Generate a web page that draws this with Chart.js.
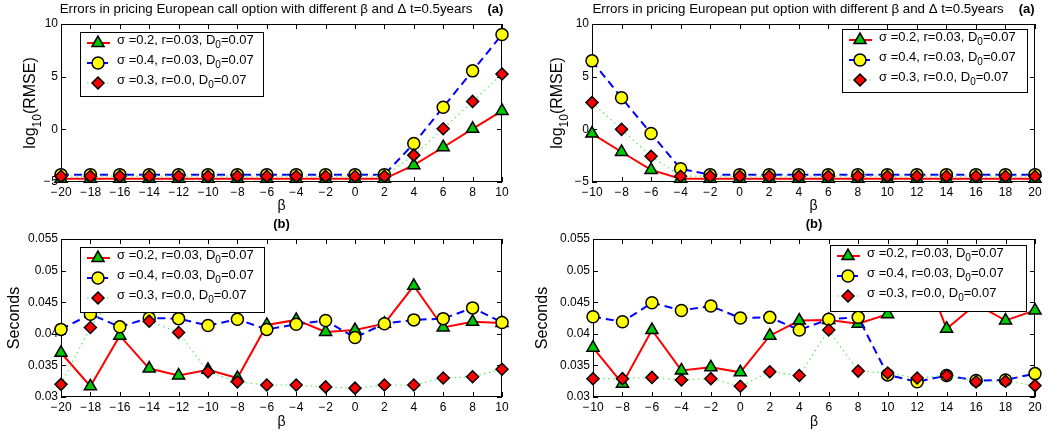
<!DOCTYPE html>
<html lang="en">
<head>
<meta charset="UTF-8" />
<title>Errors in pricing European options</title>
<script src="https://cdn.jsdelivr.net/npm/chart.js"></script>
<style>
  body { margin: 0; background: #fff; }
  #wrap { position: relative; width: 1049px; height: 435px; }
  #wrap canvas { position: absolute; }
</style>
</head>
<body>
<div id="wrap">
  <canvas id="call-rmse" width="525" height="215" style="left:0;top:0"></canvas>
  <canvas id="put-rmse" width="524" height="215" style="left:525px;top:0"></canvas>
  <canvas id="call-time" width="525" height="220" style="left:0;top:215px"></canvas>
  <canvas id="put-time" width="524" height="220" style="left:525px;top:215px"></canvas>
</div>
<script>
//beta values on the x axes
const betaCall = [-20, -18, -16, -14, -12, -10, -8, -6, -4, -2, 0, 2, 4, 6, 8, 10];
const betaPut = [-10, -8, -6, -4, -2, 0, 2, 4, 6, 8, 10, 12, 14, 16, 18, 20];

//legend text, _{..} is a subscript
const seriesLabels = [
  "σ =0.2, r=0.03, D_{0}=0.07",
  "σ =0.4, r=0.03, D_{0}=0.07",
  "σ =0.3, r=0.0, D_{0}=0.07",
];

//(a) log10(RMSE), call option
const callRmse02 = [-4.7, -4.7, -4.7, -4.7, -4.7, -4.7, -4.7, -4.7, -4.7, -4.7, -4.7, -4.7, -3.4, -1.7, 0.05, 1.75];
const callRmse04 = [-4.3, -4.3, -4.3, -4.3, -4.3, -4.3, -4.3, -4.3, -4.3, -4.3, -4.3, -4.3, -1.35, 2.1, 5.55, 9.0];
const callRmse03 = [-4.45, -4.45, -4.45, -4.45, -4.45, -4.45, -4.45, -4.45, -4.45, -4.45, -4.45, -4.45, -2.45, 0.05, 2.65, 5.25];

//(a) log10(RMSE), put option
const putRmse02 = [-0.4, -2.15, -3.85, -4.68, -4.7, -4.7, -4.7, -4.7, -4.7, -4.7, -4.7, -4.7, -4.7, -4.7, -4.7, -4.7];
const putRmse04 = [6.5, 3.0, -0.4, -3.75, -4.3, -4.3, -4.3, -4.3, -4.3, -4.3, -4.3, -4.3, -4.3, -4.3, -4.3, -4.3];
const putRmse03 = [2.55, 0.0, -2.55, -4.45, -4.45, -4.45, -4.45, -4.45, -4.45, -4.45, -4.45, -4.45, -4.45, -4.45, -4.45, -4.45];

//(b) seconds, call option
const callTime02 = [0.0370, 0.0317, 0.0397, 0.0345, 0.0334, 0.0343, 0.0330, 0.0414, 0.0422, 0.0403, 0.0406, 0.0416, 0.0476, 0.0410, 0.0419, 0.0417];
const callTime04 = [0.0407, 0.0431, 0.0411, 0.0425, 0.0424, 0.0413, 0.0423, 0.0407, 0.0415, 0.0421, 0.0394, 0.0416, 0.0422, 0.0424, 0.0441, 0.0418];
const callTime03 = [0.0320, 0.0410, 0.0475, 0.0420, 0.0402, 0.0340, 0.0324, 0.0319, 0.0319, 0.0316, 0.0314, 0.0319, 0.0319, 0.0330, 0.0332, 0.0344];

//(b) seconds, put option
const putTime02 = [0.0378, 0.0321, 0.0406, 0.0342, 0.0347, 0.0339, 0.0397, 0.0421, 0.0422, 0.0416, 0.0431, 0.0530, 0.0408, 0.0447, 0.0421, 0.0437];
const putTime04 = [0.0427, 0.0419, 0.0449, 0.0437, 0.0444, 0.0425, 0.0426, 0.0406, 0.0423, 0.0426, 0.0335, 0.0324, 0.0334, 0.0326, 0.0327, 0.0337];
const putTime03 = [0.0329, 0.0329, 0.0331, 0.0327, 0.0329, 0.0317, 0.0340, 0.0334, 0.0406, 0.0341, 0.0338, 0.0330, 0.0334, 0.0324, 0.0325, 0.0318];

const FONT = "'Liberation Sans', Arial, Helvetica, sans-serif";

//split "D_{0}" style strings into normal / subscript pieces
function richParts(text) {
  const parts = [];
  const re = /_\{(.*?)\}/g;
  let last = 0, m;
  while ((m = re.exec(text)) !== null) {
    if (m.index > last) parts.push({ t: text.slice(last, m.index), sub: false });
    parts.push({ t: m[1], sub: true });
    last = re.lastIndex;
  }
  if (last < text.length) parts.push({ t: text.slice(last), sub: false });
  return parts;
}

//draw text with subscripts, y is the middle of the normal text
function drawRich(ctx, text, x, y, size, align) {
  const parts = richParts(text);
  const subSize = Math.round(size * 0.75);
  let total = 0;
  parts.forEach((p) => {
    ctx.font = (p.sub ? subSize : size) + "px " + FONT;
    p.w = ctx.measureText(p.t).width;
    total += p.w;
  });
  let cx = align === "center" ? x - total / 2 : x;
  ctx.textAlign = "left";
  ctx.textBaseline = "middle";
  ctx.fillStyle = "#000";
  parts.forEach((p) => {
    ctx.font = (p.sub ? subSize : size) + "px " + FONT;
    ctx.fillText(p.t, cx, p.sub ? y + size * 0.42 : y);
    cx += p.w;
  });
}

//matlab puts a little space after its minus sign
function minusSign(v) {
  return String(v).replace("-", "\u2212\u200a");
}

//matlab style frame, inward ticks, titles and boxed legend
function matlabLook(cfg) {
  return {
    id: "matlabLook",
    beforeDatasetsDraw(chart) {
      const ctx = chart.ctx;
      const { left, right, top, bottom } = chart.chartArea;
      const xs = chart.scales.x, ys = chart.scales.y;
      ctx.save();
      ctx.strokeStyle = "#000";
      ctx.lineWidth = 1;
      ctx.beginPath();
      xs.ticks.forEach((t) => {
        const px = Math.round(xs.getPixelForValue(t.value)) + 0.5;
        ctx.moveTo(px, bottom); ctx.lineTo(px, bottom - 5);
        ctx.moveTo(px, top); ctx.lineTo(px, top + 5);
      });
      ys.ticks.forEach((t) => {
        const py = Math.round(ys.getPixelForValue(t.value)) + 0.5;
        ctx.moveTo(left, py); ctx.lineTo(left + 5, py);
        ctx.moveTo(right, py); ctx.lineTo(right - 5, py);
      });
      ctx.stroke();
      ctx.strokeRect(left + 0.5, top + 0.5, right - left - 1, bottom - top - 1);
      ctx.restore();
    },
    afterDatasetsDraw(chart) {
      const ctx = chart.ctx;
      const [bx, by, bw, bh] = cfg.legend;
      ctx.save();
      ctx.fillStyle = "#fff";
      ctx.fillRect(bx, by, bw, bh);
      ctx.strokeStyle = "#000";
      ctx.lineWidth = 1;
      ctx.strokeRect(bx + 0.5, by + 0.5, bw, bh);
      chart.data.datasets.forEach((ds, i) => {
        const my = by + 11 + i * 20;
        ctx.beginPath();
        ctx.setLineDash(ds.borderDash || []);
        ctx.strokeStyle = ds.borderColor;
        ctx.lineWidth = ds.borderWidth;
        ctx.moveTo(bx + 7, my);
        ctx.lineTo(bx + 30, my);
        ctx.stroke();
        ctx.setLineDash([]);
        ctx.fillStyle = ds.pointBackgroundColor;
        ctx.strokeStyle = ds.pointBorderColor;
        ctx.lineWidth = ds.pointBorderWidth;
        Chart.helpers.drawPoint(ctx, {
          pointStyle: ds.pointStyle,
          radius: ds.pointRadius,
          rotation: 0,
          borderWidth: ds.pointBorderWidth,
        }, bx + 18, my);
        drawRich(ctx, ds.label, bx + 37, my - 3, 13, "left");
      });
      ctx.restore();
    },
    afterDraw(chart) {
      const ctx = chart.ctx;
      const { left, right, top, bottom } = chart.chartArea;
      const mid = (left + right) / 2;
      ctx.save();
      //title with bold tag
      ctx.textBaseline = "middle";
      ctx.fillStyle = "#000";
      ctx.font = "13.3px " + FONT;
      const mainW = cfg.title ? ctx.measureText(cfg.title).width : 0;
      ctx.font = "bold 13px " + FONT;
      const tagW = ctx.measureText(cfg.tag).width;
      const gap = cfg.title ? 15 : 0;
      let tx = mid - (mainW + gap + tagW) / 2;
      ctx.textAlign = "left";
      if (cfg.title) {
        ctx.font = "13.3px " + FONT;
        ctx.fillText(cfg.title, tx, 9);
        tx += mainW + gap;
      }
      ctx.font = "bold 13px " + FONT;
      ctx.fillText(cfg.tag, tx, 9);
      //x label
      ctx.font = "14px " + FONT;
      ctx.textAlign = "center";
      ctx.fillText("β", mid, cfg.xLabelY);
      //y label, rotated
      ctx.translate(cfg.yLabelX, (top + bottom) / 2);
      ctx.rotate(-Math.PI / 2);
      drawRich(ctx, cfg.yLabel, 0, 0, 16, "center");
      ctx.restore();
    },
  };
}

function points(xs, ys) {
  return xs.map((x, i) => ({ x: x, y: ys[i] }));
}

function makeChart(cfg) {
  const canvas = document.getElementById(cfg.id);
  const W = canvas.width, H = canvas.height;
  const [aLeft, aRight, aTop, aBottom] = cfg.area;
  const styles = [
    { borderColor: "#ff0000", borderWidth: 2, borderDash: [], pointStyle: "triangle", pointRadius: 7, pointBackgroundColor: "#00c800", order: 2 },
    { borderColor: "#0000ff", borderWidth: 2, borderDash: [8, 5], pointStyle: "circle", pointRadius: 6, pointBackgroundColor: "#ffff00", order: 1 },
    { borderColor: "#55ee55", borderWidth: 1.2, borderDash: [1.5, 3.5], pointStyle: "rectRot", pointRadius: 6, pointBackgroundColor: "#ff0000", order: 0 },
  ];
  const datasets = cfg.series.map((s, i) => Object.assign({
    label: seriesLabels[i],
    data: points(cfg.beta, s),
    pointBorderColor: "#000",
    pointBorderWidth: 1.5,
    pointHoverRadius: styles[i].pointRadius,
    tension: 0,
    fill: false,
    clip: false,
  }, styles[i]));

  return new Chart(canvas, {
    type: "line",
    data: { datasets: datasets },
    options: {
      responsive: false,
      animation: false,
      events: [],
      layout: { padding: { top: aTop, right: W - aRight, left: 0, bottom: 0 } },
      plugins: { legend: { display: false }, tooltip: { enabled: false }, title: { display: false } },
      scales: {
        x: {
          type: "linear",
          min: cfg.beta[0],
          max: cfg.beta[cfg.beta.length - 1],
          grid: { display: false, drawTicks: false },
          border: { display: false },
          ticks: {
            stepSize: 2,
            autoSkip: false,
            maxRotation: 0,
            padding: 3,
            color: "#000",
            font: { family: FONT, size: 12 },
            callback: (v) => minusSign(v),
          },
          afterFit: (scale) => { scale.height = H - aBottom; },
        },
        y: {
          min: cfg.yMin,
          max: cfg.yMax,
          grid: { display: false, drawTicks: false },
          border: { display: false },
          ticks: {
            stepSize: cfg.yStep,
            padding: 3,
            color: "#000",
            font: { family: FONT, size: 12 },
            callback: (v) => minusSign(+v.toFixed(4)),
          },
          afterFit: (scale) => { scale.width = aLeft; },
        },
      },
    },
    plugins: [matlabLook(cfg)],
  });
}

const callTitle = "Errors in pricing European call option with different β and Δ t=0.5years";
const putTitle = "Errors in pricing European put option with different β and Δ t=0.5years";

makeChart({
  id: "call-rmse", beta: betaCall, series: [callRmse02, callRmse04, callRmse03],
  yMin: -5, yMax: 10, yStep: 5, area: [61, 502, 24, 182],
  title: callTitle, tag: "(a)", legend: [80, 32, 183, 64],
  yLabel: "log_{10}(RMSE)", yLabelX: 31, xLabelY: 206,
});
makeChart({
  id: "put-rmse", beta: betaPut, series: [putRmse02, putRmse04, putRmse03],
  yMin: -5, yMax: 10, yStep: 5, area: [67, 510, 24, 182],
  title: putTitle, tag: "(a)", legend: [317, 29, 185, 63],
  yLabel: "log_{10}(RMSE)", yLabelX: 33, xLabelY: 206,
});
makeChart({
  id: "call-time", beta: betaCall, series: [callTime02, callTime04, callTime03],
  yMin: 0.03, yMax: 0.055, yStep: 0.005, area: [61, 502, 24, 182],
  title: "", tag: "(b)", legend: [80, 32, 184, 65],
  yLabel: "Seconds", yLabelX: 15, xLabelY: 207,
});
makeChart({
  id: "put-time", beta: betaPut, series: [putTime02, putTime04, putTime03],
  yMin: 0.03, yMax: 0.055, yStep: 0.005, area: [68, 510, 24, 182],
  title: "", tag: "(b)", legend: [305, 30, 196, 66],
  yLabel: "Seconds", yLabelX: 18, xLabelY: 207,
});
</script>
</body>
</html>
